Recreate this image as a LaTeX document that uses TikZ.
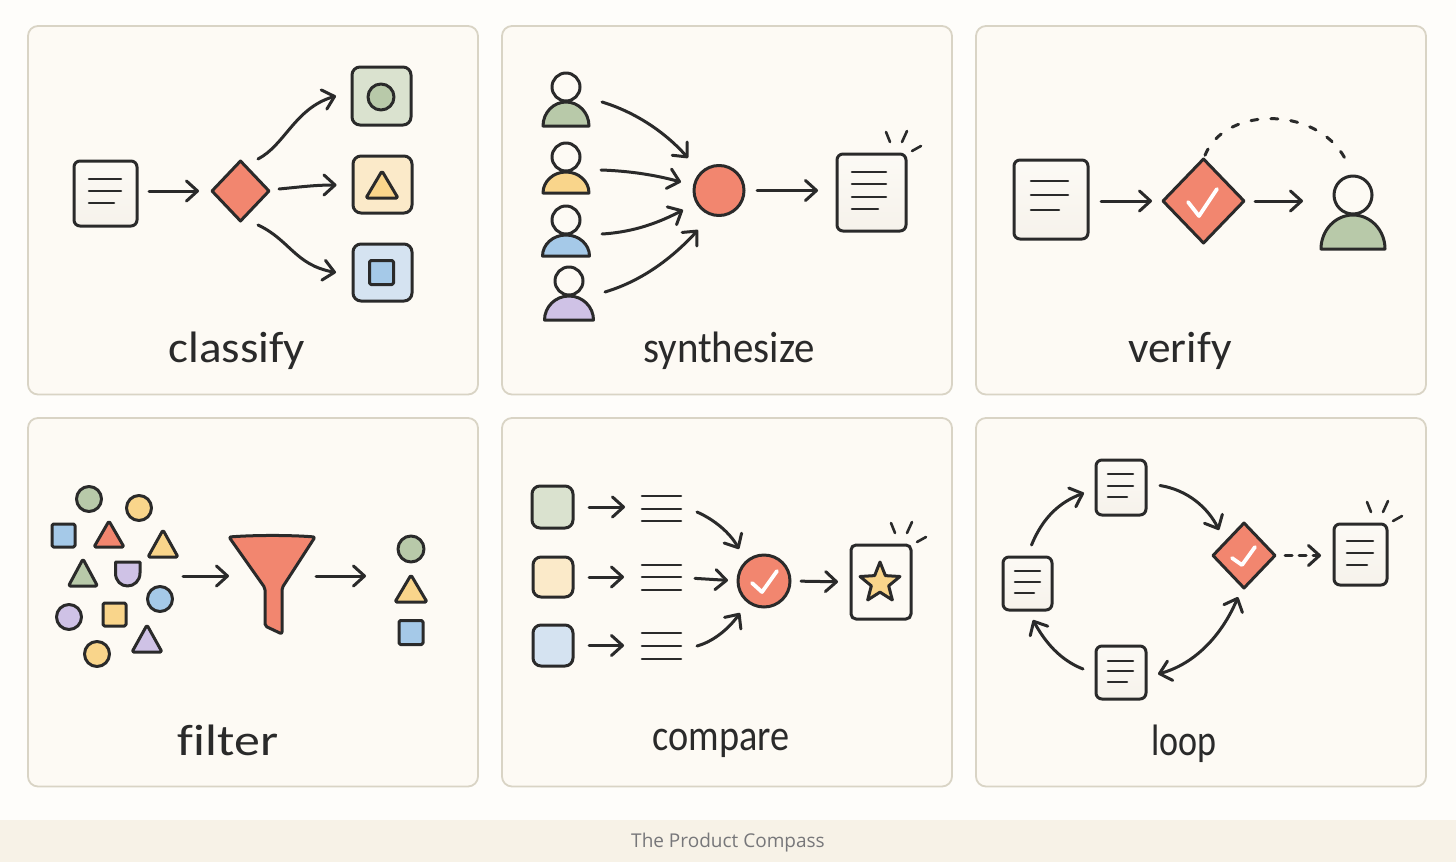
\documentclass[tikz,border=0pt]{standalone}
\usepackage{graphicx}
\usepackage{fontspec}
\setmainfont[Ligatures=NoCommon]{Carlito}
\newfontfamily\footfont{Open Sans}
\usetikzlibrary{arrows.meta,shapes.geometric}

\definecolor{ink}{HTML}{2A2A2A}
\definecolor{pagebg}{HTML}{FEFDFA}
\definecolor{cardbg}{HTML}{FDFAF4}
\definecolor{cardline}{HTML}{D9D4C5}
\definecolor{stripbg}{HTML}{F7F2E7}
\definecolor{stripfg}{HTML}{77777A}
\definecolor{red}{HTML}{F2866F}
\definecolor{sage}{HTML}{B8C9A9}
\definecolor{sun}{HTML}{F9D58B}
\definecolor{sky}{HTML}{A5C9E8}
\definecolor{lilac}{HTML}{CFC2E6}
\definecolor{sagelt}{HTML}{DAE2CF}
\definecolor{sunlt}{HTML}{FBEAC9}
\definecolor{skylt}{HTML}{D5E3F1}
\definecolor{doctop}{HTML}{FCFAF5}
\definecolor{docbot}{HTML}{F6F2EB}

\tikzset{
    lw/.style={line width=3pt, line join=round},
    arr/.style={lw, draw=ink, line cap=round, -{Straight Barb[length=11pt,width=20pt,round]}},
    arrboth/.style={lw, draw=ink, line cap=round, {Straight Barb[length=11pt,width=20pt,round]}-{Straight Barb[length=11pt,width=20pt,round]}},
    docbox/.style={draw=ink, lw, rounded corners=6pt, top color=doctop, bottom color=docbot, inner sep=0pt, outer sep=0pt},
    tile/.style={draw=ink, lw, rounded corners=8pt, inner sep=0pt, outer sep=0pt},
    sq/.style={draw=ink, lw, rounded corners=1.5pt, inner sep=0pt, outer sep=0pt, minimum size=23},
    disc/.style={draw=ink, lw, circle, inner sep=0pt, outer sep=0pt, minimum size=25},
    gem/.style={draw=ink, lw, diamond, aspect=1, fill=red, inner sep=0pt, outer sep=0pt},
    docline/.style={draw=ink, line width=2.6pt, line cap=round},
    spark/.style={draw=ink, line width=2.6pt, line cap=round},
    tick/.style={draw=white, line width=3.8pt, line cap=round, line join=round},
    hole/.style={inner sep=0pt, outer sep=0pt},
    lbl/.style={anchor=base, inner sep=0pt, text=ink, font=\fontsize{44}{50}\selectfont},
}

\newcommand{\tri}[5]{\draw[draw=ink, fill=#5, lw, rounded corners=1.5pt] (#1,#2) -- (#1+#4,#3) -- (#1-#4,#3) -- cycle;}
\newcommand{\person}[7]{%
    \draw[draw=ink, fill=#7, lw] (#2-#5,#3+#4+1+#6) arc[start angle=180, end angle=360, x radius=#5, y radius=#6] -- cycle;
    \node[disc, fill=cardbg, minimum size=2*#4] (#1) at (#2,#3) {};
}
\newcommand{\sparks}[1]{%
    \foreach \a/\b/\c/\d in {-20/-22/-16/-12, 1/-23/-4/-12, 15/-8/6/-3}
        \draw[spark] ([shift={(\a,\b)}]#1) -- ([shift={(\c,\d)}]#1);
}

\begin{document}
\begin{tikzpicture}[x=1pt, y=-1pt]
    \fill[pagebg] (0,0) rectangle (1456,862);
    \useasboundingbox (0,0) rectangle (1456,862);
    \fill[stripbg] (0,820) rectangle (1456,862);
    \node[hole, text=stripfg, font=\footfont\fontsize{19}{22}\selectfont] (credit) at (728,842.5) {The Product Compass};

    % cards
    \foreach \x/\y in {28/26, 502/26, 976/26, 28/418, 502/418, 976/418}
        \draw[draw=cardline, fill=cardbg, line width=1.8pt, rounded corners=10pt] (\x,\y) rectangle ++(450,368.5);

    % classify
    \node[docbox, minimum width=63, minimum height=65] (doc1) at (105.5,193.5) {};
    \foreach \y/\l in {179/32, 191/32, 203/25} \draw[docline] (89,\y) -- ++(\l,0);
    \node[gem, minimum width=57, minimum height=60] (dia1) at (240.5,191) {};
    \node[tile, fill=sagelt, minimum width=59, minimum height=58] (boxg) at (381.5,96) {};
    \node[disc, fill=sage, minimum size=26] (markg) at (381,97) {};
    \node[tile, fill=sunlt, minimum width=59, minimum height=57] (boxy) at (382.5,184.5) {};
    \tri{382}{171}{198}{16}{sun}
    \node[tile, fill=skylt, minimum width=59, minimum height=57] (boxb) at (382.5,272.5) {};
    \node[sq, fill=sky, minimum size=24] (markb) at (381.5,272.5) {};
    \draw[arr, shorten <=12pt, shorten >=13pt] (doc1.east |- dia1) -- (dia1.west);
    \draw[arr] ([shift={(17.5,-2)}]dia1.north) .. controls (285,145) and (295,108) .. ([shift={(-16,0)}]boxg.west);
    \draw[arr] ([shift={(10,-2)}]dia1.east) .. controls (300,187) and (315,185) .. ([shift={(-16.5,0.5)}]boxy.west);
    \draw[arr] ([shift={(17.5,4)}]dia1.south) .. controls (290,240) and (295,265) .. ([shift={(-17,0)}]boxb.west);
    \node[lbl] (lblclassify) at (237,362) {\scalebox{1.07}[1]{classify}};

    % synthesize
    \person{p1}{566}{87}{14}{23}{24}{sage}
    \person{p2}{566}{157}{14}{23}{21}{sun}
    \person{p3}{566}{220}{14}{23.5}{21}{sky}
    \person{p4}{569}{281}{14}{24.5}{24}{lilac}
    \node[disc, fill=red, minimum size=50] (hubs) at (719,190.5) {};
    \node[docbox, minimum width=69, minimum height=77] (docs) at (871.5,192.5) {};
    \foreach \y/\l in {172/34, 184/34, 197/34, 209/26} \draw[docline] (852,\y) -- ++(\l,0);
    \sparks{docs.north east}
    \draw[arr] ([shift={(22,15)}]p1.east) .. controls (635,112) and (665,132) .. ([shift={(-31,-32.5)}]hubs.center);
    \draw[arr] ([shift={(21,13)}]p2.east) .. controls (630,171) and (655,175) .. ([shift={(-38,-8.5)}]hubs.center);
    \draw[arr] ([shift={(22,14)}]p3.east) .. controls (635,232) and (660,222) .. ([shift={(-36,19.5)}]hubs.center);
    \draw[arr] ([shift={(22,11)}]p4.east) .. controls (645,280) and (675,255) .. ([shift={(-21,39.5)}]hubs.center);
    \draw[arr, shorten <=13pt, shorten >=19pt] (hubs.east) -- (docs.west |- hubs);
    \node[lbl] (lblsynth) at (729,362) {\scalebox{.93}[1]{synthesize}};

    % verify
    \node[docbox, minimum width=74, minimum height=79] (docv) at (1051,199.5) {};
    \foreach \y/\l in {181/37, 195/37, 210/28} \draw[docline] (1031,\y) -- ++(\l,0);
    \node[gem, minimum width=81, minimum height=84] (diav) at (1203.5,201) {};
    \draw[tick] (1188,202) -- (1199,216) -- (1217,189);
    \person{headv}{1353}{195}{19}{32}{34}{sage}
    \draw[arr, shorten <=13pt, shorten >=11pt] (docv.east |- diav) -- (diav.west);
    \draw[arr, shorten <=11pt, shorten >=31pt] (diav.east) -- (diav.east -| headv.west);
    \draw[lw, draw=ink, line cap=round, dash pattern=on 7pt off 13pt, shorten <=4pt, shorten >=13pt] (diav.north) .. controls (1225,105) and (1322,105) .. (headv.north);
    \node[lbl] (lblverify) at (1180,362) {\scalebox{1.03}[1]{verify}};

    % filter
    \node[disc, fill=sage] (c1) at (89,499) {};
    \node[disc, fill=sun] (c2) at (139,508) {};
    \node[sq, fill=sky] (s1) at (63.5,535.5) {};
    \tri{109}{521}{547}{15}{red}
    \tri{163}{530}{557}{15}{sun}
    \tri{83}{559}{586}{14.5}{sage}
    \draw[draw=ink, fill=lilac, lw] (115.5,562) -- (140,562) -- (140,573) .. controls (140,581) and (134,586) .. (127.5,586) .. controls (121,586) and (115.5,581) .. (115.5,573) -- cycle;
    \node[disc, fill=sky] (c3) at (160,599) {};
    \node[disc, fill=lilac] (c4) at (69,617) {};
    \node[sq, fill=sun] (s2) at (114.5,614.5) {};
    \tri{147}{625}{652}{15}{lilac}
    \node[disc, fill=sun] (c5) at (97,654) {};
    \draw[draw=ink, fill=red, lw, rounded corners=2pt] (229,537) .. controls (255,535) and (290,535) .. (315,537) -- (282,588) -- (282,634) -- (265,626) -- (265,588) -- cycle;
    \coordinate (pilein) at (183,576);
    \coordinate (fnlin) at (229,576);
    \coordinate (fnlout) at (316,576);
    \coordinate (keepin) at (366,576);
    \node[disc, fill=sage, minimum size=26] (c6) at (411,549) {};
    \tri{411}{575}{602}{16}{sun}
    \node[sq, fill=sky, minimum size=24] (s3) at (411,632.5) {};
    \draw[arr] (pilein) -- (fnlin);
    \draw[arr] (fnlout) -- (keepin);
    \node[lbl] (lblfilter) at (228,755) {\scalebox{1.18}[1]{filter}};

    % compare
    \node[tile, fill=sagelt, minimum width=41, minimum height=42] (boxa) at (552.5,507) {};
    \node[tile, fill=sunlt, minimum width=40, minimum height=40] (boxc) at (553,577) {};
    \node[tile, fill=skylt, minimum width=40, minimum height=41] (boxd) at (553,645.5) {};
    \node[hole, minimum width=39, minimum height=25] (list1) at (661.5,508.5) {};
    \node[hole, minimum width=39, minimum height=25] (list2) at (661.5,577.5) {};
    \node[hole, minimum width=39, minimum height=26] (list3) at (661.5,646) {};
    \foreach \y in {496, 509, 521, 565, 577, 590, 633, 646, 659} \draw[docline] (642,\y) -- ++(39,0);
    \node[disc, fill=red, minimum size=52] (hubc) at (764,581) {};
    \draw[tick] (752,583) -- (762,592) -- (777,571);
    \node[tile, fill=cardbg, rounded corners=5pt, minimum width=60, minimum height=74] (boxs) at (881,582) {};
    \node[draw=ink, lw, fill=sun, star, star points=5, star point ratio=2.3, inner sep=0pt, minimum size=42] (starc) at (880,583) {};
    \sparks{boxs.north east}
    \draw[arr, shorten <=16pt, shorten >=17pt] (boxa.east) -- (boxa.east -| list1.west);
    \draw[arr, shorten <=16pt, shorten >=18pt] (boxc.east) -- (boxc.east -| list2.west);
    \draw[arr, shorten <=16pt, shorten >=18pt] (boxd.east) -- (boxd.east -| list3.west);
    \draw[arr] ([shift={(16,3.5)}]list1.east) .. controls (715,520) and (730,533) .. ([shift={(-25,-32)}]hubc.center);
    \draw[arr, shorten <=14pt, shorten >=10pt] (list2.east) -- (hubc.west);
    \draw[arr] ([shift={(16,0)}]list3.east) .. controls (715,641) and (730,627) .. ([shift={(-24,32)}]hubc.center);
    \draw[arr, shorten <=11pt, shorten >=13pt] (hubc.east) -- (boxs.west);
    \node[lbl] (lblcompare) at (721,750) {\scalebox{.87}[1]{compare}};

    % loop
    \node[docbox, minimum width=50, minimum height=55] (doct) at (1121,487.5) {};
    \foreach \y/\l in {474/25, 486/25, 497/19} \draw[docline] (1108,\y) -- ++(\l,0);
    \node[docbox, minimum width=49, minimum height=53] (docl) at (1027.5,583.5) {};
    \foreach \y/\l in {571/25, 582/25, 593/19} \draw[docline] (1015,\y) -- ++(\l,0);
    \node[docbox, minimum width=50, minimum height=53] (docb) at (1121,672.5) {};
    \foreach \y/\l in {661/25, 671/25, 682/19} \draw[docline] (1108,\y) -- ++(\l,0);
    \node[gem, minimum width=62, minimum height=65] (dial) at (1244,555.5) {};
    \draw[tick] (1232,558) -- (1242,565) -- (1255,547);
    \node[docbox, minimum width=53, minimum height=61] (doco) at (1360.5,554.5) {};
    \foreach \y/\l in {541/26, 553/26, 565/20} \draw[docline] (1347,\y) -- ++(\l,0);
    \sparks{doco.north east}
    \draw[arr] ([shift={(4,-12)}]docl.north) .. controls (1043,517) and (1060,502) .. ([shift={(-12,5.5)}]doct.west);
    \draw[arr] ([shift={(14,-2)}]doct.east) .. controls (1188,490) and (1208,508) .. ([shift={(-25,7)}]dial.north);
    \draw[arrboth] ([shift={(-6,9)}]dial.south) .. controls (1222,635) and (1195,664) .. ([shift={(12,1.5)}]docb.east);
    \draw[arr] ([shift={(-13,-3.5)}]docb.west) .. controls (1060,660) and (1045,642) .. ([shift={(5.5,10)}]docl.south);
    \draw[arr, dash pattern=on 7pt off 7pt, shorten <=10pt, shorten >=13pt] (dial.east) -- (dial.east -| doco.west);
    \node[lbl] (lblloop) at (1184,755) {\scalebox{.82}[1]{loop}};
\end{tikzpicture}
\end{document}
